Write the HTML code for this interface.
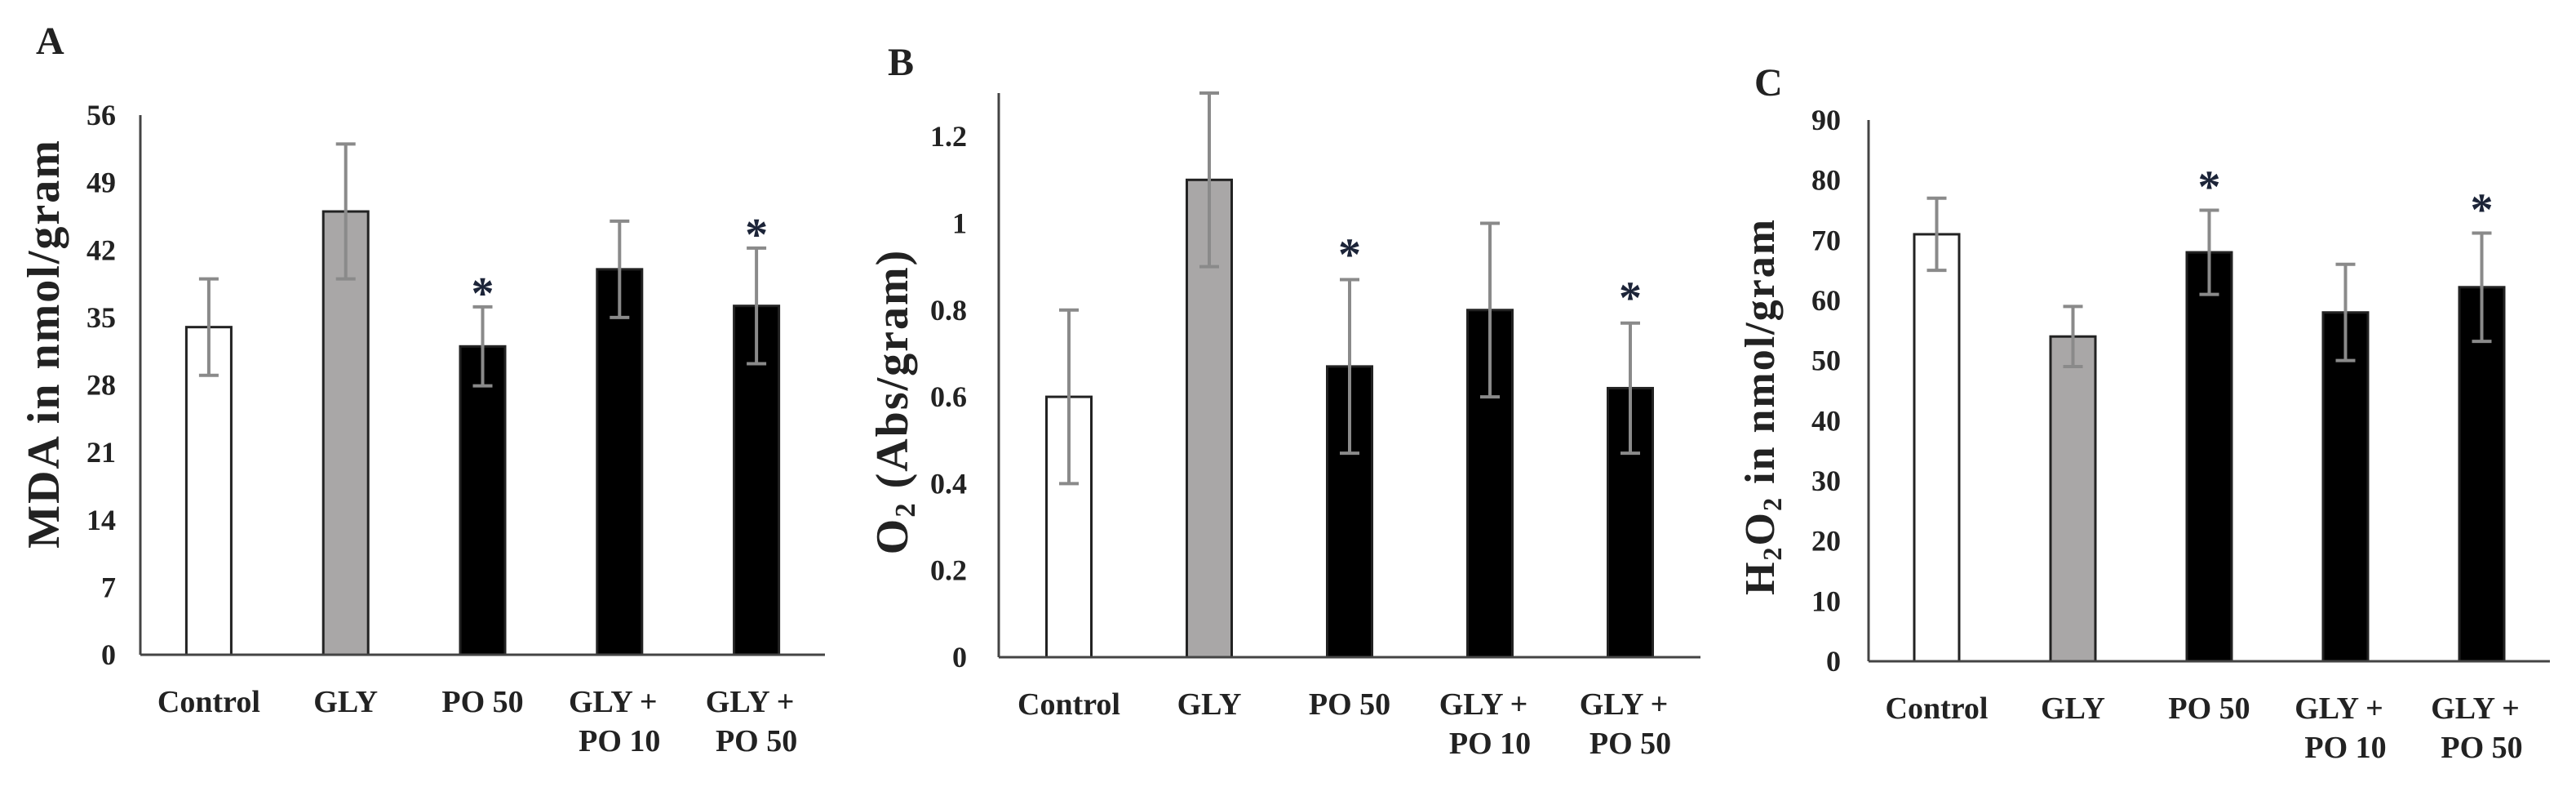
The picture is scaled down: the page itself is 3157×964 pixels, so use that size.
<!DOCTYPE html>
<html><head><meta charset="utf-8"><style>
html,body{margin:0;padding:0;background:#fff;}
svg{display:block;}
text{font-family:"Liberation Serif",serif;font-weight:bold;fill:#222;}
</style></head><body>
<svg id="chart" width="3157" height="964" viewBox="0 0 3157 964" xmlns="http://www.w3.org/2000/svg">
<rect width="3157" height="964" fill="#fff"/>
</svg>
<script>
const categories = ["Control","GLY","PO 50","GLY + PO 10","GLY + PO 50"];
const valuesA = [34, 46, 32, 40, 36.2];
const errorsA = [5, 7, 4.1, 5, 6];
const starsA = [false,false,true,false,true];
const ticksA = [0,7,14,21,28,35,42,49,56];
const valuesB = [0.6, 1.1, 0.67, 0.8, 0.62];
const errorsB = [0.2, 0.2, 0.2, 0.2, 0.15];
const starsB = [false,false,true,false,true];
const ticksB = [0,0.2,0.4,0.6,0.8,1,1.2];
const valuesC = [71, 54, 68, 58, 62.2];
const errorsC = [6, 5, 7, 8, 9];
const starsC = [false,false,true,false,true];
const ticksC = [0,10,20,30,40,50,60,70,80,90];
const fills = ["#ffffff","#a9a7a7","#000000","#000000","#000000"];

const NS = "http://www.w3.org/2000/svg";
const svg = document.getElementById("chart");
function mk(tag, attrs, parent){
  const e = document.createElementNS(NS, tag);
  for (const k in attrs) e.setAttribute(k, attrs[k]);
  (parent||svg).appendChild(e);
  return e;
}

function panel(p){
  const g = mk("g", {});
  
  
  const y = v => p.y0 - (v / p.max) * (p.y0 - p.yTop);
  const band = (p.x1 - p.x0) / categories.length;
  const xc = i => p.x0 + band * (i + 0.5);
  const bw = 55;

  const lab = mk("text", {x:p.lx, y:p.ly, "font-size":48}, g);
  lab.textContent = p.id;
  
  

  p.ticks.forEach(t => {
    const tt = mk("text", {x:p.tickR, y:y(t)+12, "font-size":36, "text-anchor":"end"}, g);
    tt.textContent = t;
    
    
  });

  p.values.forEach((v, i) => {
    const cx = xc(i);
    const r = mk("rect", {x:cx-bw/2, y:y(v), width:bw, height:p.y0-y(v), fill:fills[i], stroke:"#222", "stroke-width":3}, g);
    
    
    const e = p.errors[i];
    const eg = mk("g", {stroke:"#8a8a8a", "stroke-width":4}, g);
    
    
    mk("line", {x1:cx, x2:cx, y1:y(v+e), y2:y(v-e)}, eg);
    mk("line", {x1:cx-12, x2:cx+12, y1:y(v+e), y2:y(v+e)}, eg);
    mk("line", {x1:cx-12, x2:cx+12, y1:y(v-e), y2:y(v-e)}, eg);
    if (p.stars[i]) {
      const s = mk("text", {x:cx, y:y(v+e)-p.starGap, "font-size":56, "text-anchor":"middle", style:"fill:#1c2438"}, g);
      s.textContent = "*";
      
      
    }
    const parts = categories[i].includes("+") ? [categories[i].split(" + ")[0] + " +", categories[i].split(" + ")[1]] : [categories[i]];
    parts.forEach((line, j) => {
      const xt = mk("text", {x:cx + (j===0 && parts.length>1 ? -8 : 0), y:p.y0 + 70 + j*48, "font-size":38, "text-anchor":"middle"}, g);
      xt.textContent = line;
      
      
    });
  });

  const ax = mk("g", {stroke:"#444", "stroke-width":3}, g);
  
  
  mk("line", {x1:p.x0, x2:p.x0, y1:p.yTop, y2:p.y0}, ax);
  mk("line", {x1:p.x0, x2:p.x1, y1:p.y0, y2:p.y0}, ax);

  const ty = mk("text", {x:0, y:0, "font-size":p.tsize, "letter-spacing":2, "text-anchor":"middle", transform:`translate(${p.tx},${p.ty}) rotate(-90)`}, g);
  
  
  p.title.forEach(seg => {
    const ts = mk("tspan", seg.sub ? {"font-size":p.tsize*0.62, dy:9} : (seg.after ? {dy:-9} : {}), ty);
    ts.textContent = seg.t;
  });
}

panel({id:"A", lx:44, ly:66, x0:172, x1:1011, yTop:141, y0:802, max:56, ticks:ticksA,
  values:valuesA, errors:errorsA, stars:starsA, tickR:142, starGap:-2, tx:72, ty:421, tsize:56,
  title:[{t:"MDA in nmol/gram"}]});
panel({id:"B", lx:1088, ly:92, x0:1224, x1:2084, yTop:114, y0:805, max:1.3, ticks:ticksB,
  values:valuesB, errors:errorsB, stars:starsB, tickR:1185, starGap:12, tx:1112, ty:492, tsize:56,
  title:[{t:"O"},{t:"2",sub:true},{t:" (Abs/gram)",after:true}]});
panel({id:"C", lx:2150, ly:117, x0:2290, x1:3125, yTop:147, y0:810, max:90, ticks:ticksC,
  values:valuesC, errors:errorsC, stars:starsC, tickR:2256, starGap:10, tx:2174, ty:498, tsize:52,
  title:[{t:"H"},{t:"2",sub:true},{t:"O",after:true},{t:"2",sub:true},{t:" in nmol/gram",after:true}]});
</script>
</body></html>
